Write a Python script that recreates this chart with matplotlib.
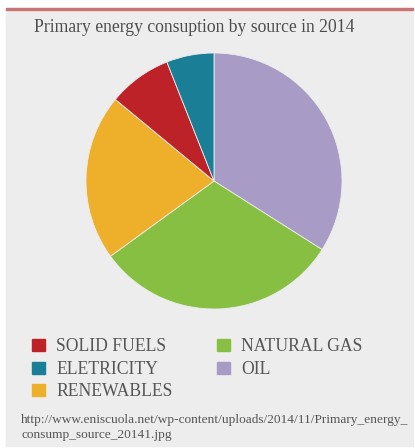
import matplotlib.pyplot as plt
from matplotlib.patches import Rectangle

# energy sources, clockwise from 12 o'clock
sources = ['OIL', 'NATURAL GAS', 'RENEWABLES', 'SOLID FUELS', 'ELETRICITY']
shares = [34, 31, 21, 8, 6]
colors = ['#A89BC5', '#86BF42', '#EEAF2A', '#BE2229', '#1A7F96']

# legend order (two columns)
legend_order = ['SOLID FUELS', 'ELETRICITY', 'RENEWABLES', 'NATURAL GAS', 'OIL']

title = 'Primary energy consuption by source in 2014'
source_lines = ['http://www.eniscuola.net/wp-content/uploads/2014/11/Primary_energy_',
                'consump_source_20141.jpg']

W, H = 415, 448
fig = plt.figure(figsize=(W / 100, H / 100), dpi=100)
fig.patch.set_facecolor('white')

def px(x, y):
    return x / W, 1 - y / H

# grey panel and red top rule
fig.patches.append(Rectangle((6 / W, 2 / H), 407 / W, (H - 10) / H,
                             transform=fig.transFigure, color='#ECEDEC', zorder=-2))
fig.patches.append(Rectangle((6 / W, 1 - 10 / H), 407 / W, 2 / H,
                             transform=fig.transFigure, color='#C97373', zorder=-1))

serif = ['Liberation Serif', 'DejaVu Serif']
fig.text(*px(34, 31.5), title, family=serif, fontsize=12.7, color='#4D4D4D', va='baseline')

# pie
cx, cy, r = 214, 181, 128
half = 130
ax = fig.add_axes([(cx - half) / W, (H - cy - half) / H, 2 * half / W, 2 * half / H])
ax.set_zorder(5)
ax.set_facecolor('none')
ax.pie(shares, colors=colors, startangle=90, counterclock=False, radius=1,
       wedgeprops=dict(edgecolor='#ECEDEC', linewidth=0.6))
ax.set_xlim(-half / r, half / r)
ax.set_ylim(-half / r, half / r)
ax.set_aspect('equal')
ax.axis('off')

# legend
color_of = dict(zip(sources, colors))
col_x = [32, 217]
row_y = [351, 373.5, 396]
for i, name in enumerate(legend_order):
    col, row = (0, i) if i < 3 else (1, i - 3)
    x0, yb = col_x[col], row_y[row]
    fig.patches.append(Rectangle(px(x0, yb), 13 / W, 12 / H,
                                 transform=fig.transFigure, color=color_of[name], zorder=2))
    fig.text(*px(x0 + 24, yb), name, family=serif, fontsize=12.7, color='#555555',
             va='baseline')

for k, line in enumerate(source_lines):
    fig.text(*px(21, 423 + 15 * k), line, family=serif, fontsize=9.6, color='#555555',
             va='baseline')

fig.savefig('out.png', dpi=100, facecolor=fig.get_facecolor())
